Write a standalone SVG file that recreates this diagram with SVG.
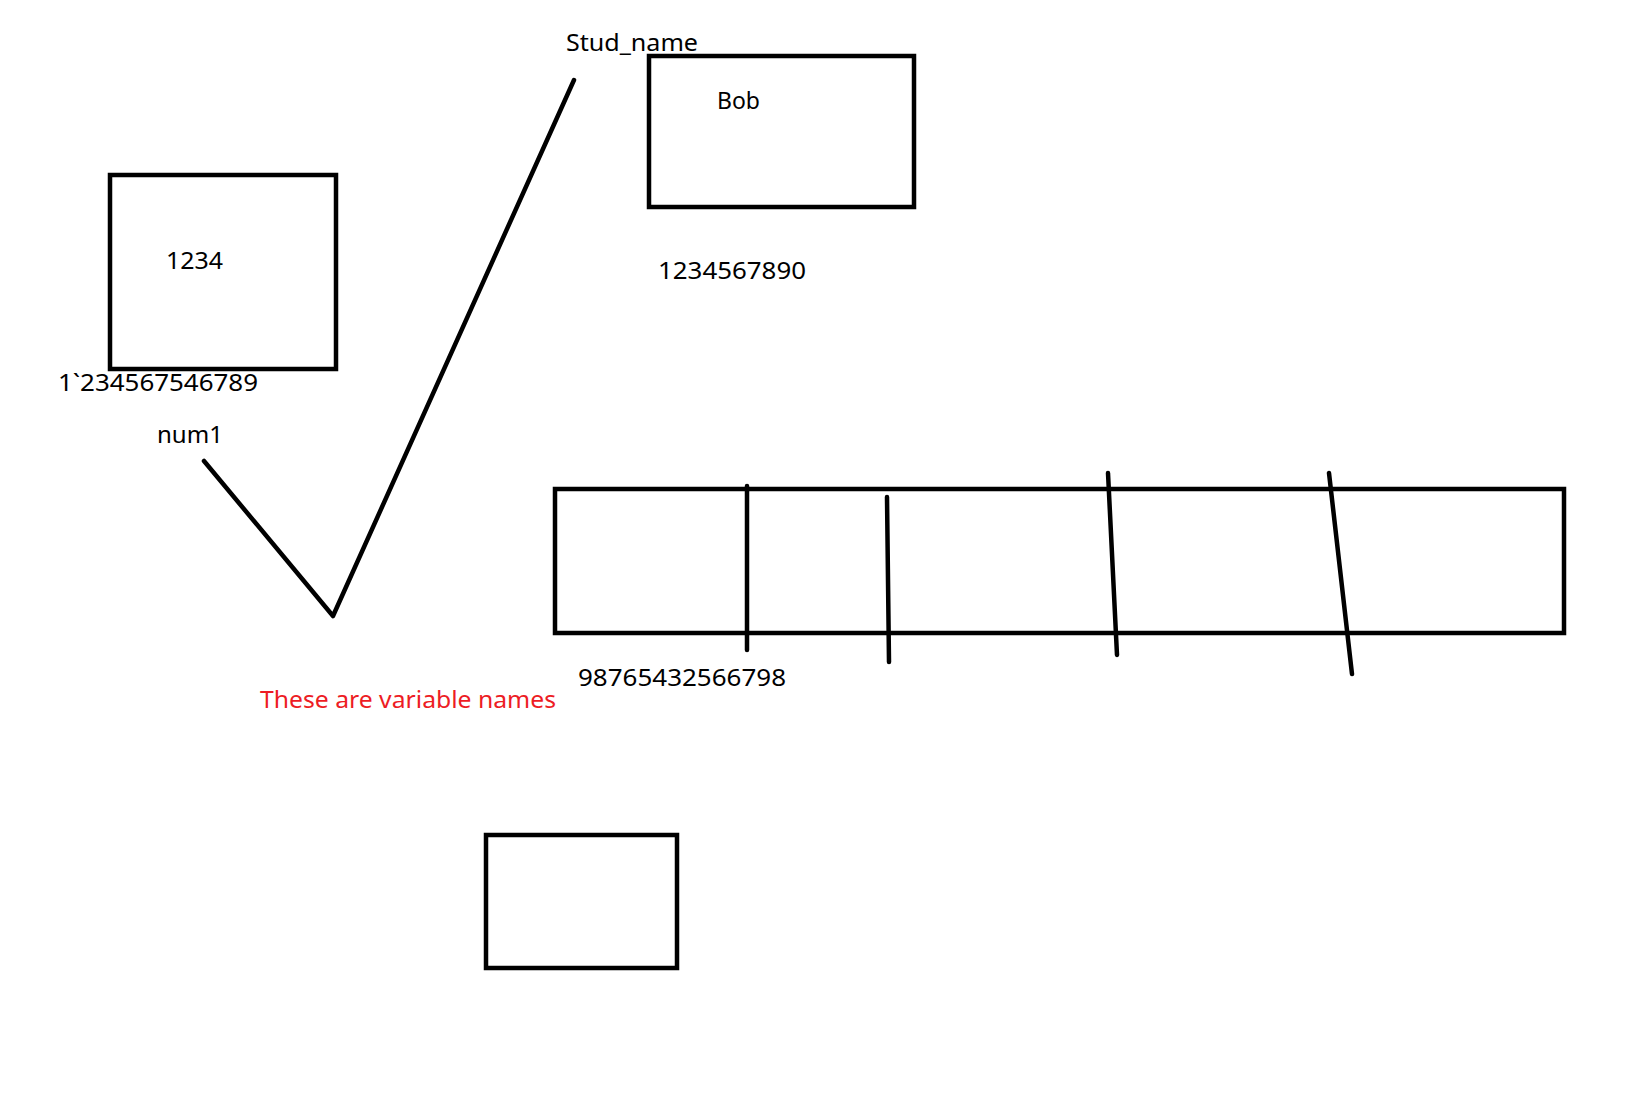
<svg xmlns="http://www.w3.org/2000/svg" width="1641" height="1094" viewBox="0 0 1641 1094">
<style>
.box{fill:none;stroke:#000;stroke-width:4.5}
.ln{fill:none;stroke:#000;stroke-width:4.5;stroke-linecap:round;stroke-linejoin:round}
.t{font-family:"Noto Sans","Liberation Sans",sans-serif;font-size:24px;fill:#000}
.r{fill:#ed1c24}
</style>
<rect width="1641" height="1094" fill="#fff"/>
<g id="box-num1">
<rect class="box" x="110" y="175" width="226" height="194"/>
<text class="t" x="166" y="269" textLength="57" lengthAdjust="spacingAndGlyphs">1234</text>
</g>
<text class="t" x="58" y="391" textLength="200" lengthAdjust="spacingAndGlyphs">1`234567546789</text>
<text class="t" x="157" y="443" textLength="66" lengthAdjust="spacingAndGlyphs">num1</text>
<g id="box-stud">
<rect class="box" x="649" y="56" width="265" height="151"/>
<text class="t" x="717" y="109" textLength="43" lengthAdjust="spacingAndGlyphs">Bob</text>
</g>
<text class="t" x="566" y="51" textLength="132" lengthAdjust="spacingAndGlyphs">Stud_name</text>
<text class="t" x="658" y="279" textLength="148" lengthAdjust="spacingAndGlyphs">1234567890</text>
<g id="box-array">
<rect class="box" x="555" y="489" width="1009" height="144"/>
</g>
<text class="t" x="578" y="686" textLength="208" lengthAdjust="spacingAndGlyphs">98765432566798</text>
<g id="box-small">
<rect class="box" x="486" y="835" width="191" height="133"/>
</g>
<g id="connectors">
<polyline class="ln" points="204,461 333,616 574,80"/>
<line class="ln" x1="747" y1="486" x2="747" y2="650"/>
<line class="ln" x1="887" y1="497" x2="889" y2="662"/>
<line class="ln" x1="1108" y1="473" x2="1117" y2="655"/>
<line class="ln" x1="1329" y1="473" x2="1352" y2="674"/>
</g>
<text class="t r" x="260" y="708" textLength="296" lengthAdjust="spacingAndGlyphs">These are variable names</text>
</svg>
